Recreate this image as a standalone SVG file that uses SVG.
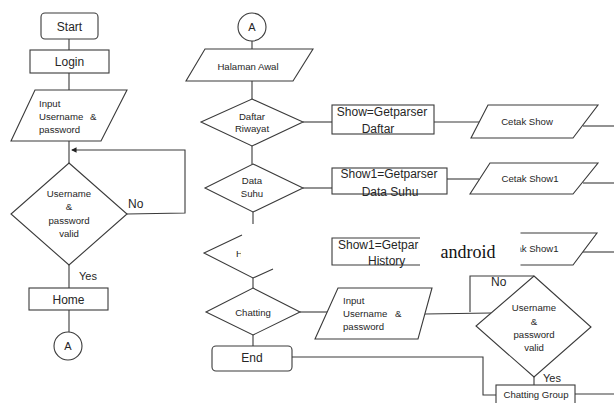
<svg xmlns="http://www.w3.org/2000/svg" width="614" height="403" viewBox="0 0 614 403">
<style>
.s{fill:#fff;stroke:#3a3a3a;stroke-width:1.1}
.c{fill:none;stroke:#3a3a3a;stroke-width:1.1}
text{font-family:"Liberation Sans",Arial,sans-serif;fill:#262626;text-anchor:middle}
.b{font-size:12px}
.m{font-size:9.6px}
.l{text-anchor:start}
</style>
<defs>
<marker id="ar" viewBox="0 0 6 6" refX="5" refY="3" markerWidth="5" markerHeight="5" orient="auto"><path d="M0,0L6,3L0,6z" fill="#222"/></marker>
<clipPath id="cl1"><rect x="0" y="0" width="241" height="403"/></clipPath>
<clipPath id="cl2"><rect x="330" y="230" width="88.5" height="40"/></clipPath>
<clipPath id="cl3"><rect x="520.5" y="228" width="95" height="45"/></clipPath>
</defs>
<rect width="614" height="403" fill="#fff"/>
<g id="connectors">
<line class="c" x1="69" y1="39" x2="69" y2="50"/>
<line class="c" x1="69" y1="73" x2="69" y2="90"/>
<line class="c" x1="69" y1="141" x2="69" y2="163"/>
<polyline class="c" points="127,214 185,213 185,150 72,150" marker-end="url(#ar)"/>
<line class="c" x1="69" y1="265" x2="69" y2="288"/>
<line class="c" x1="69" y1="310" x2="69" y2="332"/>
<line class="c" x1="252" y1="41" x2="252" y2="49"/>
<line class="c" x1="252" y1="81" x2="252" y2="99"/>
<line class="c" x1="252" y1="146" x2="252" y2="164"/>
<line class="c" x1="303" y1="122" x2="332" y2="122"/>
<line class="c" x1="434" y1="122" x2="483" y2="122"/>
<line class="c" x1="583" y1="126" x2="614" y2="126"/>
<line class="c" x1="303" y1="188" x2="332" y2="188"/>
<line class="c" x1="447" y1="179" x2="479" y2="179"/>
<line class="c" x1="583" y1="183" x2="614" y2="183"/>
<line class="c" x1="253" y1="212" x2="253" y2="224"/>
<line class="c" x1="253" y1="278" x2="253" y2="288"/>
<line class="c" x1="583" y1="252" x2="614" y2="252"/>
<line class="c" x1="300" y1="312" x2="330" y2="312"/>
<line class="c" x1="425" y1="314" x2="491" y2="313"/>
<polyline class="c" points="534,276 470,276 470,312"/>
<line class="c" x1="253" y1="335" x2="253" y2="346"/>
<polyline class="c" points="292,357 483,357 483,395 496,395"/>
<line class="c" x1="534" y1="377" x2="534" y2="385"/>
<line class="c" x1="575" y1="394" x2="614" y2="394"/>
</g>
<g id="start"><rect class="s" x="41" y="13" width="57" height="26" rx="4"/><text class="b" x="69.5" y="31">Start</text></g>
<g id="login"><rect class="s" x="30" y="50" width="79" height="23"/><text class="b" x="69.5" y="66">Login</text></g>
<g id="input1"><polygon class="s" points="35,90 127,90 101,141 11,141"/>
<text class="m l" x="39" y="107">Input</text><text class="m l" x="39" y="120">Username</text><text class="m l" x="90" y="120">&amp;</text><text class="m l" x="39" y="133">password</text></g>
<g id="valid1"><polygon class="s" points="69,163 127,214 69,265 11,214"/>
<text class="m" x="69" y="197">Username</text><text class="m" x="69" y="210">&amp;</text><text class="m" x="69" y="224">password</text><text class="m" x="69" y="237">valid</text></g>
<text class="b l" x="128" y="208">No</text>
<text class="l" x="79" y="280" style="font-size:11px">Yes</text>
<g id="home"><rect class="s" x="29" y="288" width="79" height="22"/><text class="b" x="68.5" y="303.5">Home</text></g>
<g id="a1"><circle class="s" cx="68" cy="346" r="14"/><text x="68" y="350" style="font-size:11px">A</text></g>
<g id="a2"><circle class="s" cx="252" cy="27" r="14"/><text x="252" y="31" style="font-size:11px">A</text></g>
<g id="halaman"><polygon class="s" points="205,49 313,49 293,81 186,81"/><text class="m" x="248" y="69.5">Halaman Awal</text></g>
<g id="daftar"><polygon class="s" points="252,99 303,122 252,146 201,122"/><text class="m" x="252" y="119.5">Daftar</text><text class="m" x="252" y="132">Riwayat</text></g>
<g id="suhu"><polygon class="s" points="253,164 303,188 253,212 205,188"/><text class="m" x="252" y="183.5">Data</text><text class="m" x="252" y="197">Suhu</text></g>
<g id="history">
<polyline class="c" points="242,235 204,253 253,278 273,269"/>
<text class="m l" x="236" y="257" clip-path="url(#cl1)">H</text>
</g>
<g id="chatting"><polygon class="s" points="253,288 300,312 253,335 206,312"/><text class="m" x="253" y="315.5">Chatting</text></g>
<g id="end"><rect class="s" x="212" y="346" width="80" height="25" rx="4"/><text class="b" x="252" y="362">End</text></g>
<g id="show"><rect class="s" x="332" y="105" width="102" height="29"/><text class="b" x="382" y="116">Show=Getparser</text><text class="b" x="378" y="133">Daftar</text></g>
<g id="show1"><rect class="s" x="332" y="168" width="115" height="26"/><text class="b" x="389" y="178">Show1=Getparser</text><text class="b" x="390" y="196">Data Suhu</text></g>
<g id="show2">
<polyline class="c" points="420,238 332,238 332,265 420,265"/>
<g clip-path="url(#cl2)"><text class="b l" x="338" y="249">Show1=Getparser</text><text class="b l" x="368" y="265">History</text></g>
</g>
<text x="468" y="258" style="font-family:'Liberation Serif','Times New Roman',serif;font-size:18px;fill:#111">android</text>
<g id="cetak"><polygon class="s" points="488,105 598,105 573,138 471,138"/><text class="m" x="527" y="125">Cetak Show</text></g>
<g id="cetak1"><polygon class="s" points="490,163 598,163 573,194 470,194"/><text class="m" x="530" y="182">Cetak Show1</text></g>
<g id="cetak2"><g clip-path="url(#cl3)"><polygon class="s" points="490,233 597,233 573,265 470,265"/><text class="m" x="530" y="252">Cetak Show1</text></g></g>
<g id="input2"><polygon class="s" points="338,288 432,288 418,339 315,339"/>
<text class="m l" x="343" y="304">Input</text><text class="m l" x="343" y="317">Username</text><text class="m l" x="395" y="317">&amp;</text><text class="m l" x="343" y="330">password</text></g>
<g id="valid2"><polygon class="s" points="534,276 591,327 534,377 476,326"/>
<text class="m" x="534" y="311">Username</text><text class="m" x="534" y="325">&amp;</text><text class="m" x="534" y="338">password</text><text class="m" x="534" y="351">valid</text></g>
<text class="b l" x="491" y="286">No</text>
<text class="l" x="543" y="382" style="font-size:11px">Yes</text>
<g id="chatgroup"><rect class="s" x="496" y="385" width="79" height="22"/><text class="m" x="536" y="398">Chatting Group</text></g>
</svg>
